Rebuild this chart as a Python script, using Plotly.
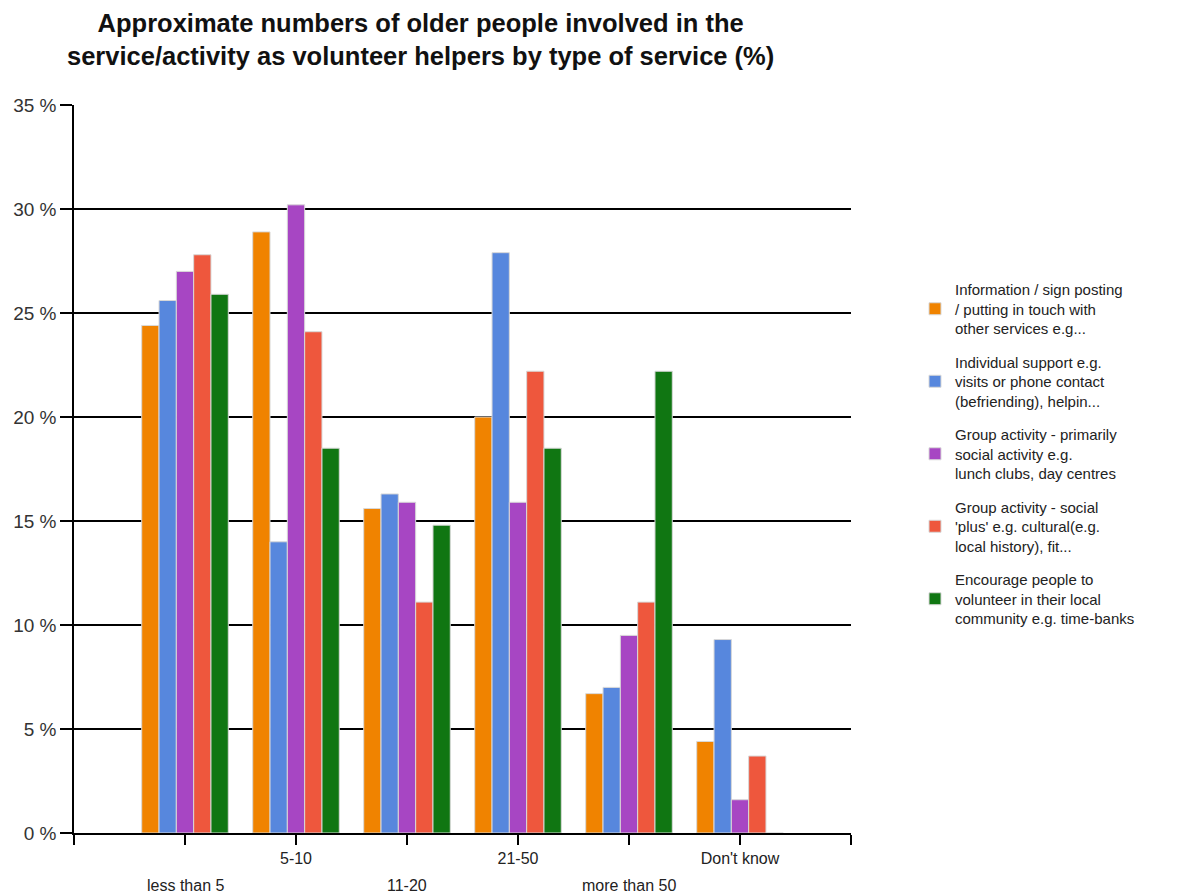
import plotly.graph_objects as go

categories = ["less than 5", "5-10", "11-20", "21-50", "more than 50", "Don't know"]
series_names = [
    "Information / sign posting<br>/ putting in touch with<br>other services e.g...",
    "Individual support e.g.<br>visits or phone contact<br>(befriending), helpin...",
    "Group activity - primarily<br>social activity e.g.<br>lunch clubs, day centres",
    "Group activity - social<br>'plus' e.g. cultural(e.g.<br>local history), fit...",
    "Encourage people to<br>volunteer in their local<br>community e.g. time-banks",
]
info_signposting = [24.4, 28.9, 15.6, 20.0, 6.7, 4.4]
individual_support = [25.6, 14.0, 16.3, 27.9, 7.0, 9.3]
group_social = [27.0, 30.2, 15.9, 15.9, 9.5, 1.6]
group_social_plus = [27.8, 24.1, 11.1, 22.2, 11.1, 3.7]
encourage_volunteer = [25.9, 18.5, 14.8, 18.5, 22.2, 0.0]
y_ticks = [0, 5, 10, 15, 20, 25, 30, 35]

series_values = [info_signposting, individual_support, group_social,
                 group_social_plus, encourage_volunteer]
colors = ["#F08300", "#5787DD", "#A746C3", "#EE573D", "#107612"]

# page body has an 8px margin: work in page pixels, convert to figure pixels
OFF = 8
W, H = 1177 - OFF, 896 - OFF
L, R, T, B = 74 - OFF, 851 - OFF, 105 - OFF, 833 - OFF
PW = R - L

xpos = list(range(len(categories)))
fig = go.Figure()
for i, (name, vals, col) in enumerate(zip(series_names, series_values, colors)):
    fig.add_trace(go.Bar(
        x=xpos, y=vals, name=name, legendgroup=str(i),
        marker=dict(color=col, line=dict(color="#D8D8D8", width=1)),
    ))

tickvals = [-1] + xpos + [len(categories)]
ticktext = [""] + [c if i % 2 == 1 else "" for i, c in enumerate(categories)] + [""]

annotations = [dict(
    x=(420 - 74) / PW, y=1, xref="paper", yref="paper",
    xanchor="center", yanchor="top", yshift=T + 1, showarrow=False,
    text="<b>Approximate numbers of older people involved in the<br>service/activity as volunteer helpers by type of service (%)</b>",
    font=dict(size=25.5, color="#111"),
)]
for i, c in enumerate(categories):
    if i % 2 == 0:
        annotations.append(dict(x=i, y=0, xref="x", yref="y", text=c,
                                showarrow=False, yanchor="middle", yshift=-52,
                                font=dict(size=16, color="#222")))

fig.update_layout(
    width=W, height=H,
    margin=dict(l=L, r=W - R, t=T, b=H - B, pad=0),
    paper_bgcolor="white", plot_bgcolor="white",
    font=dict(family="Liberation Sans, Arial", color="#222"),
    barmode="group", bargap=0.22, bargroupgap=0.0,
    xaxis=dict(range=[-1, len(categories)], tickmode="array",
               tickvals=tickvals, ticktext=ticktext, automargin=False,
               showgrid=False, zeroline=False,
               showline=True, linecolor="#000", linewidth=1.5,
               ticks="outside", ticklen=10, tickcolor="#000", tickwidth=1.5,
               tickfont=dict(size=16, color="#222"), fixedrange=True),
    yaxis=dict(range=[0, 35], tickmode="array", tickvals=y_ticks,
               ticktext=[f"{v} %" for v in y_ticks], automargin=False,
               showgrid=True, gridcolor="#000", gridwidth=1.5,
               zeroline=False, showline=True, linecolor="#000", linewidth=1.5,
               ticks="outside", ticklen=12, tickcolor="#000", tickwidth=1.5,
               tickfont=dict(size=19, color="#333"), fixedrange=True),
    legend=dict(x=(915 - 74) / PW, xanchor="left",
                y=(825 - 446) / 728, yanchor="middle",
                font=dict(size=15, color="#222"), tracegroupgap=11,
                itemwidth=30, bgcolor="rgba(0,0,0,0)"),
    annotations=annotations,
    showlegend=True,
)

fig.write_html("out.html")
